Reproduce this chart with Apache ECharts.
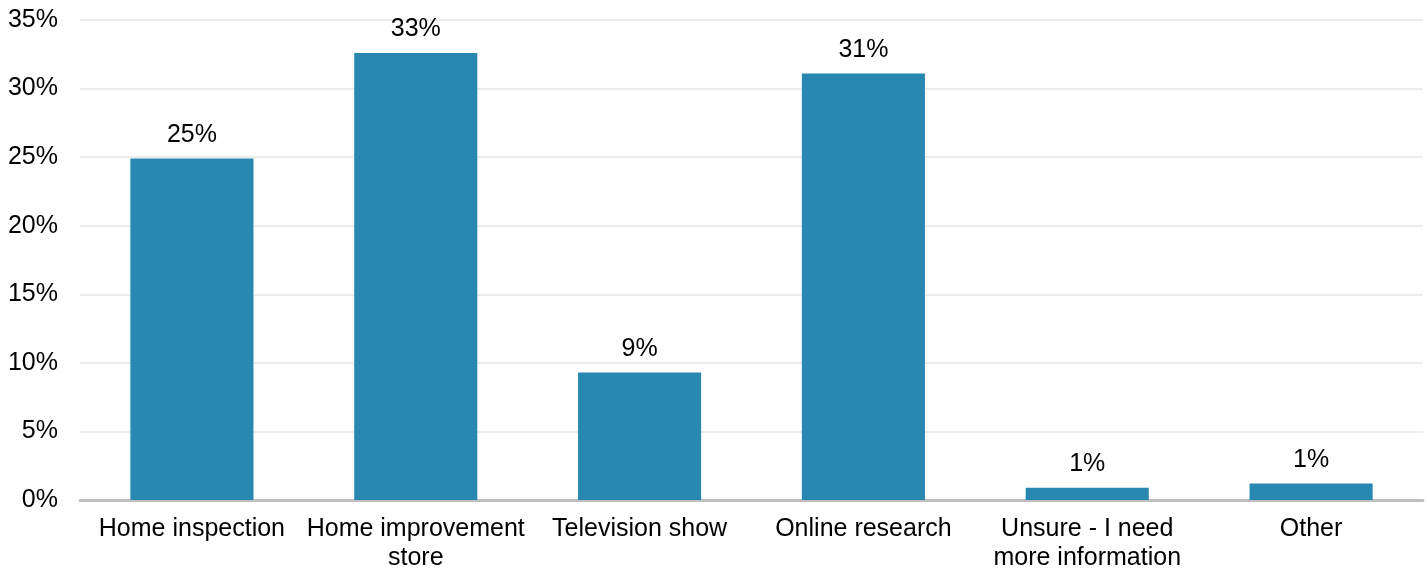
<!DOCTYPE html>
<html>
<head>
<meta charset="utf-8">
<script src="https://cdn.jsdelivr.net/npm/echarts@6/dist/echarts.min.js"></script>
<style>html,body{margin:0;padding:0;background:#fff}#c{width:1427px;height:569px}</style>
</head>
<body>
<div id="c"></div>
<script>
var categories = ["Home inspection", "Home improvement\nstore", "Television show", "Online research", "Unsure - I need\nmore information", "Other"];
var values = [24.9, 32.6, 9.3, 31.1, 0.9, 1.2];
var yTicks = [0, 5, 10, 15, 20, 25, 30, 35];

var chart = echarts.init(document.getElementById('c'), null, {renderer: 'canvas'});
chart.setOption({
  animation: false,
  backgroundColor: '#ffffff',
  textStyle: {fontFamily: 'Liberation Sans, Arial, sans-serif'},
  grid: {left: 80, right: 4, top: 20, bottom: 69, containLabel: false, outerBoundsMode: 'none'},
  xAxis: {
    type: 'category',
    data: categories,
    axisLine: {show: true, lineStyle: {color: '#bfbfbf', width: 3}},
    axisTick: {show: false},
    axisLabel: {color: '#000', fontSize: 25, lineHeight: 29, margin: 15, interval: 0}
  },
  yAxis: {
    type: 'value',
    min: yTicks[0],
    max: yTicks[yTicks.length - 1],
    interval: 5,
    axisLine: {show: false},
    axisTick: {show: false},
    splitLine: {lineStyle: {color: '#ececec', width: 2}},
    axisLabel: {color: '#000', fontSize: 25, margin: 22, formatter: function (v) { return v + '%'; }}
  },
  series: [{
    type: 'bar',
    data: values,
    barWidth: '55%',
    itemStyle: {color: '#2988b1'},
    label: {
      show: true,
      position: 'top',
      distance: 11,
      color: '#000',
      fontSize: 25,
      formatter: function (p) { return Math.round(p.value) + '%'; }
    }
  }]
});
</script>
</body>
</html>
